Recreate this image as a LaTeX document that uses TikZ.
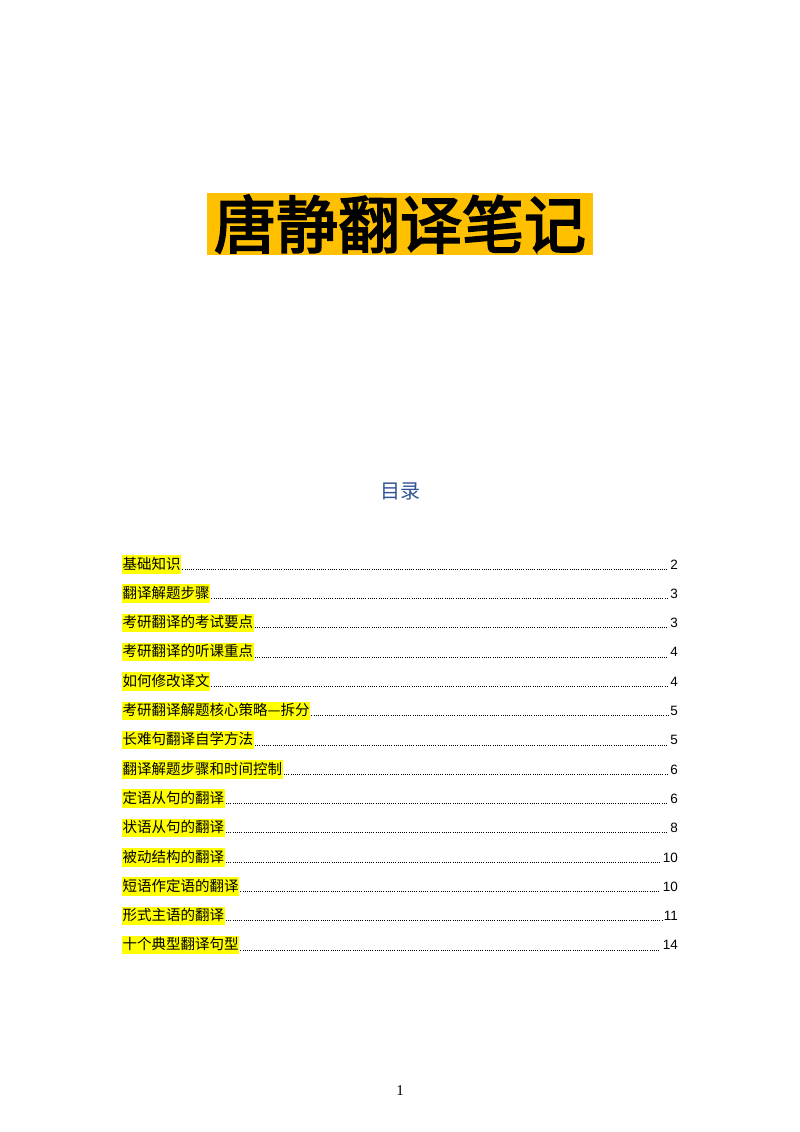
\documentclass[tikz,border=0pt]{standalone}
\usepackage{fontspec}
\setmainfont{Liberation Sans}
\newfontfamily\cjk{Noto Sans CJK SC}
\newfontfamily\cjkb{Noto Sans CJK SC}[BoldFont=*,FakeBold=3]
\newfontfamily\serifnum{Liberation Serif}
\definecolor{titleorange}{HTML}{FFC000}
\definecolor{tocblue}{HTML}{2F5496}
\definecolor{hl}{HTML}{FFFF00}
\tikzset{
  entry/.style={anchor=base west,fill=hl,inner xsep=0.5pt,inner ysep=0pt,text height=14pt,text depth=4.5pt,font=\cjk\fontsize{14.5}{16}\selectfont},
  pnum/.style={anchor=base east,inner sep=0pt,font=\fontsize{13.5}{16}\selectfont},
  leader/.style={line width=0.6pt,dash pattern=on 0.6pt off 1.6pt}
}
\begin{document}
\begin{tikzpicture}[x=1pt,y=-1pt]
\useasboundingbox[fill=white] (0,0) rectangle (800,1132);
\node[fill=titleorange,minimum width=386pt,minimum height=62pt,inner sep=0pt,font=\cjk\fontsize{62}{64}\selectfont\bfseries] (title) at (400,224) {\cjkb 唐静翻译笔记};
\node[text=tocblue,font=\cjk\fontsize{20}{22}\selectfont] (toc) at (400,491) {目录};
\foreach \i/\t/\p in {0/基础知识/2,1/翻译解题步骤/3,2/考研翻译的考试要点/3,3/考研翻译的听课重点/4,4/如何修改译文/4,5/考研翻译解题核心策略—拆分/5,6/长难句翻译自学方法/5,7/翻译解题步骤和时间控制/6,8/定语从句的翻译/6,9/状语从句的翻译/8,10/被动结构的翻译/10,11/短语作定语的翻译/10,12/形式主语的翻译/11,13/十个典型翻译句型/14}{
  \node[entry] (t\i) at (122,{569+29.3*\i}) {\t};
  \node[pnum] (n\i) at (678,{569+29.3*\i}) {\p};
  \draw[leader] ([xshift=1pt]t\i.base east) -- ([xshift=-2pt]n\i.base west);
}
\node[font=\serifnum\fontsize{15}{16}\selectfont] (pg) at (400,1091) {1};
\end{tikzpicture}
\end{document}
